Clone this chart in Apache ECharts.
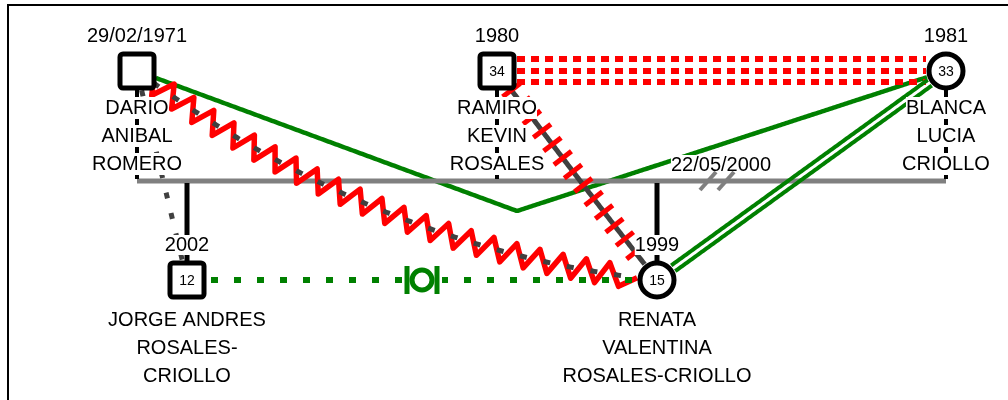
<!DOCTYPE html>
<html>
<head>
<meta charset="utf-8">
<script src="https://cdn.jsdelivr.net/npm/echarts@6/dist/echarts.min.js"></script>
<style>
html, body { margin: 0; padding: 0; background: #fff; }
#main { width: 1008px; height: 400px; }
</style>
</head>
<body>
<div id="main"></div>
<script>
// personas del genograma
var nombres = ['DARIO\nANIBAL\nROMERO', 'RAMIRO\nKEVIN\nROSALES', 'BLANCA\nLUCIA\nCRIOLLO', 'JORGE ANDRES\nROSALES-\nCRIOLLO', 'RENATA\nVALENTINA\nROSALES-CRIOLLO'];
var fechas = ['29/02/1971', '1980', '1981', '2002', '1999'];
var edades = ['', '34', '33', '12', '15'];
var sexo = ['M', 'M', 'F', 'M', 'F'];
var posX = [137, 497, 946, 187, 657];
var posY = [71, 71, 71, 280, 280];

// union: pareja, hijos, fecha de separacion
var pareja = [0, 2];
var hijos = [3, 4];
var fechaUnion = '22/05/2000';

// vinculos emocionales [desde, hasta, tipo]
var vinculos = [
  [0, 2, 'distante'],
  [0, 4, 'conflicto'],
  [1, 4, 'corte'],
  [1, 2, 'hostil'],
  [2, 4, 'unido'],
  [3, 4, 'punteadoVerde'],
  [0, 3, 'punteadoGris']
];

// trazado (layout)
var unionY = 181;
var divorcioX = 717;
var rutas = {1: {forma: 'curva', p: [381, 251]}, 0: {forma: 'codo', p: [517, 211]}, 2: {forma: 'curva', p: [590, 195]}};
var fuente = '"Liberation Sans", Arial, sans-serif';

function muestrear(p0, c, p2, forma) {
  var pts = [];
  for (var k = 0; k <= 300; k++) {
    var t = k / 300, u = 1 - t;
    if (forma === 'curva') {
      pts.push([u * u * p0[0] + 2 * u * t * c[0] + t * t * p2[0], u * u * p0[1] + 2 * u * t * c[1] + t * t * p2[1]]);
    } else if (forma === 'codo') {
      if (t <= 0.5) { var f = t * 2; pts.push([p0[0] + (c[0] - p0[0]) * f, p0[1] + (c[1] - p0[1]) * f]); }
      else { var g = (t - 0.5) * 2; pts.push([c[0] + (p2[0] - c[0]) * g, c[1] + (p2[1] - c[1]) * g]); }
    } else {
      pts.push([p0[0] + (p2[0] - p0[0]) * t, p0[1] + (p2[1] - p0[1]) * t]);
    }
  }
  return pts;
}
function medir(pts) {
  var acc = [0];
  for (var k = 1; k < pts.length; k++) {
    acc.push(acc[k - 1] + Math.hypot(pts[k][0] - pts[k - 1][0], pts[k][1] - pts[k - 1][1]));
  }
  return acc;
}
function puntoEn(pts, acc, s) {
  var k = 1;
  while (k < pts.length - 1 && acc[k] < s) k++;
  var a = pts[k - 1], b = pts[k], seg = (acc[k] - acc[k - 1]) || 1, f = (s - acc[k - 1]) / seg;
  return {x: a[0] + (b[0] - a[0]) * f, y: a[1] + (b[1] - a[1]) * f, tx: (b[0] - a[0]) / seg, ty: (b[1] - a[1]) / seg};
}
function recortar(pts, r0, r1) {
  var acc = medir(pts), L = acc[acc.length - 1], out = [];
  for (var s = r0; s < L - r1; s += 2) { var q = puntoEn(pts, acc, s); out.push([q.x, q.y]); }
  var e = puntoEn(pts, acc, L - r1);
  out.push([e.x, e.y]);
  return out;
}
function desplazar(pts, d) {
  var acc = medir(pts), out = [];
  for (var k = 0; k < pts.length; k++) {
    var q = puntoEn(pts, acc, acc[k]);
    out.push([pts[k][0] - q.ty * d, pts[k][1] + q.tx * d]);
  }
  return out;
}

function dibujaVinculo(params, api) {
  var i = params.dataIndex, v = vinculos[i];
  var a = api.coord([posX[v[0]], posY[v[0]]]);
  var b = api.coord([posX[v[1]], posY[v[1]]]);
  var ruta = rutas[i];
  var c = ruta ? api.coord(ruta.p) : null;
  var recorte = v[2] === 'punteadoVerde' ? 24 : 20;
  var pts = recortar(muestrear(a, c, b, ruta ? ruta.forma : 'recta'), recorte, recorte);
  var acc = medir(pts), L = acc[acc.length - 1];
  var hijosG = [];
  var tipo = v[2];
  if (tipo === 'distante') {
    hijosG.push({type: 'polyline', shape: {points: pts}, style: {stroke: '#008000', lineWidth: 4.5, fill: null}, z2: 1});
  } else if (tipo === 'conflicto') {
    var zz = [[pts[0][0], pts[0][1]]], k = 1;
    for (var s = 6; s < L - 6; s += 12) {
      var q = puntoEn(pts, acc, s), d = (k % 2 ? 11 : -11);
      zz.push([q.x - q.ty * d, q.y + q.tx * d]);
      k++;
    }
    zz.push(pts[pts.length - 1]);
    hijosG.push({type: 'polyline', shape: {points: zz}, style: {stroke: '#ff0000', lineWidth: 5.5, fill: null, lineJoin: 'round'}, z2: 10});
    hijosG.push({type: 'polyline', shape: {points: pts}, style: {stroke: '#404040', lineWidth: 5, fill: null, lineDash: [7, 17]}, z2: 11});
  } else if (tipo === 'corte') {
    hijosG.push({type: 'polyline', shape: {points: pts}, style: {stroke: '#404040', lineWidth: 5, fill: null}, z2: 10});
    for (var s2 = 4; s2 < L - 4; s2 += 17) {
      var q2 = puntoEn(pts, acc, s2);
      hijosG.push({type: 'line', shape: {x1: q2.x - q2.ty * 11, y1: q2.y + q2.tx * 11, x2: q2.x + q2.ty * 11, y2: q2.y - q2.tx * 11}, style: {stroke: '#ff0000', lineWidth: 5}, z2: 11});
    }
  } else if (tipo === 'hostil') {
    [-12, 0, 11].forEach(function (d) {
      hijosG.push({type: 'polyline', shape: {points: desplazar(pts, d)}, style: {stroke: '#ff0000', lineWidth: 6, fill: null, lineDash: [8, 6]}, z2: 10});
    });
  } else if (tipo === 'unido') {
    [-3.5, 3.5].forEach(function (d) {
      hijosG.push({type: 'polyline', shape: {points: desplazar(pts, d)}, style: {stroke: '#008000', lineWidth: 4, fill: null}, z2: 10});
    });
  } else if (tipo === 'punteadoVerde') {
    hijosG.push({type: 'polyline', shape: {points: pts}, style: {stroke: '#008000', lineWidth: 6, fill: null, lineDash: [7, 16]}, z2: 10});
    var m = puntoEn(pts, acc, L / 2);
    hijosG.push({type: 'rect', shape: {x: m.x - 20, y: m.y - 14, width: 40, height: 28}, style: {fill: '#fff'}, z2: 11});
    hijosG.push({type: 'circle', shape: {cx: m.x, cy: m.y, r: 10}, style: {fill: '#fff', stroke: '#008000', lineWidth: 5}, z2: 12});
    [-15, 15].forEach(function (dx) {
      hijosG.push({type: 'line', shape: {x1: m.x + dx, y1: m.y - 14, x2: m.x + dx, y2: m.y + 14}, style: {stroke: '#008000', lineWidth: 5}, z2: 12});
    });
  } else if (tipo === 'punteadoGris') {
    hijosG.push({type: 'polyline', shape: {points: pts}, style: {stroke: '#404040', lineWidth: 5, fill: null, lineDash: [6, 15]}, z2: 10});
  }
  return {type: 'group', children: hijosG};
}

function dibujaFamilia(params, api) {
  var a = api.coord([posX[pareja[0]], unionY]);
  var b = api.coord([posX[pareja[1]], unionY]);
  var g = [{type: 'line', shape: {x1: a[0], y1: a[1], x2: b[0], y2: b[1]}, style: {stroke: '#808080', lineWidth: 5}, z2: 5}];
  hijos.forEach(function (h) {
    var c = api.coord([posX[h], posY[h]]);
    g.push({type: 'line', shape: {x1: c[0], y1: a[1] + 2, x2: c[0], y2: c[1] - 18}, style: {stroke: '#000', lineWidth: 5}, z2: 6});
  });
  var d = api.coord([divorcioX, unionY]);
  g.push({type: 'text', x: d[0] + 4, y: d[1] - 16, style: {text: fechaUnion, fill: '#000', fontSize: 20, fontFamily: fuente, align: 'center', verticalAlign: 'middle', backgroundColor: '#fff', lineHeight: 20}, z2: 30});
  [-9, 9].forEach(function (dx) {
    g.push({type: 'line', shape: {x1: d[0] + dx - 8, y1: d[1] + 9, x2: d[0] + dx + 8, y2: d[1] - 9}, style: {stroke: '#808080', lineWidth: 4}, z2: 31});
  });
  return {type: 'group', children: g};
}

function dibujaPersona(params, api) {
  var i = params.dataIndex;
  var c = api.coord([posX[i], posY[i]]);
  var esHijo = hijos.indexOf(i) >= 0;
  var g = [];
  if (!esHijo) {
    var yU = api.coord([posX[i], unionY])[1];
    g.push({type: 'line', shape: {x1: c[0], y1: c[1] + 18, x2: c[0], y2: yU - 2}, style: {stroke: '#000', lineWidth: 4}, z2: 8});
  }
  if (sexo[i] === 'M') {
    g.push({type: 'rect', shape: {x: c[0] - 17, y: c[1] - 17, width: 34, height: 34, r: 3}, style: {fill: '#fff', stroke: '#000', lineWidth: 5}, z2: 20});
  } else {
    g.push({type: 'circle', shape: {cx: c[0], cy: c[1], r: 17}, style: {fill: '#fff', stroke: '#000', lineWidth: 5}, z2: 20});
  }
  if (edades[i]) {
    g.push({type: 'text', x: c[0], y: c[1] + 1, style: {text: edades[i], fill: '#000', fontSize: 14, fontFamily: fuente, align: 'center', verticalAlign: 'middle'}, z2: 21});
  }
  g.push({type: 'text', x: c[0], y: c[1] - 35, style: {text: fechas[i], fill: '#000', fontSize: 20, fontFamily: fuente, align: 'center', verticalAlign: 'middle', backgroundColor: '#fff', lineHeight: 20}, z2: 30});
  var lineas = nombres[i].split('\n');
  var y0 = c[1] + (esHijo ? 40 : 37);
  lineas.forEach(function (t, j) {
    g.push({type: 'text', x: c[0], y: y0 + j * 28, style: {text: t, fill: '#000', fontSize: 20, fontFamily: fuente, align: 'center', verticalAlign: 'middle', backgroundColor: '#fff', lineHeight: 22}, z2: 30});
  });
  return {type: 'group', children: g};
}

var myChart = echarts.init(document.getElementById('main'));
var option = {
  animation: false,
  grid: {left: 0, top: 0, right: 0, bottom: 0, show: false},
  xAxis: {type: 'value', min: 0, max: 1008, show: false},
  yAxis: {type: 'value', min: 0, max: 400, inverse: true, show: false},
  // marco superior e izquierdo
  graphic: [
    {type: 'polyline', shape: {points: [[8, 400], [8, 5], [1008, 5]]}, style: {stroke: '#000', lineWidth: 2, fill: null}}
  ],
  series: [
    {type: 'custom', z: 2, silent: true, renderItem: dibujaVinculo, data: vinculos.map(function (v) { return [posX[v[0]], posY[v[0]]]; })},
    {type: 'custom', z: 2, silent: true, renderItem: dibujaFamilia, data: [[posX[pareja[0]], unionY]]},
    {type: 'custom', z: 2, silent: true, renderItem: dibujaPersona, data: nombres.map(function (n, i) { return [posX[i], posY[i]]; })}
  ]
};
myChart.setOption(option);
</script>
</body>
</html>
